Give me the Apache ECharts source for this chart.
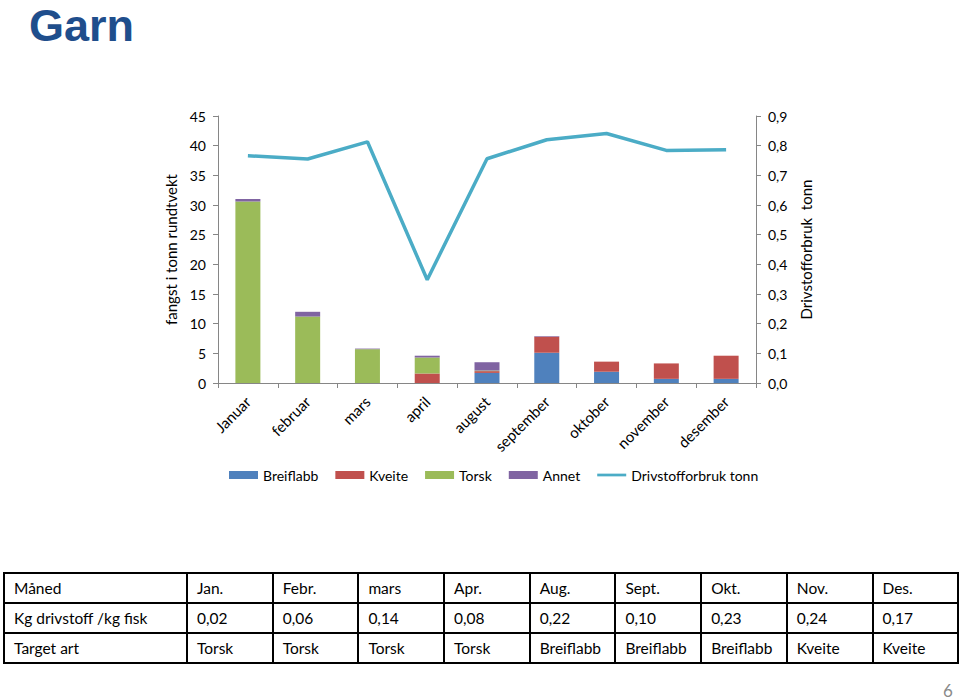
<!DOCTYPE html>
<html>
<head>
<meta charset="utf-8">
<script src="https://cdn.jsdelivr.net/npm/echarts@6/dist/echarts.min.js"></script>
<style>
  html, body { margin:0; padding:0; background:#fff; }
  #chart { position:absolute; left:0; top:0; width:960px; height:700px; }
  #tbl { position:absolute; left:3px; top:572px; border-collapse:collapse; font-family:Lato, "Open Sans", sans-serif; font-size:15.5px; color:#000; table-layout:fixed; }
  #tbl td { border:2px solid #000; height:28px; padding:0 0 0 9px; white-space:nowrap; }
  #page { position:absolute; left:943px; top:683px; font-family:Lato, sans-serif; font-size:17px; line-height:15px; color:#8a8a8a; }
</style>
</head>
<body>
<div id="chart"></div>
<table id="tbl"></table>
<div id="page">6</div>
<script>
const categories = ['Januar','februar','mars','april','august','september','oktober','november','desember'];
const breiflabb = [0, 0, 0, 0, 1.7, 5.1, 1.9, 0.7, 0.7];
const kveite    = [0, 0, 0, 1.6, 0.3, 2.7, 1.7, 2.6, 3.9];
const torsk     = [30.6, 11.2, 5.7, 2.7, 0.1, 0, 0, 0, 0];
const annet     = [0.4, 0.8, 0.1, 0.3, 1.4, 0.1, 0, 0, 0];
const drivstoff = [0.766, 0.755, 0.813, 0.348, 0.756, 0.82, 0.841, 0.784, 0.786];

const tableMonths = ['Jan.','Febr.','mars','Apr.','Aug.','Sept.','Okt.','Nov.','Des.'];
const tableRatio  = ['0,02','0,06','0,14','0,08','0,22','0,10','0,23','0,24','0,17'];
const tableTarget = ['Torsk','Torsk','Torsk','Torsk','Breiflabb','Breiflabb','Breiflabb','Kveite','Kveite'];
const tableRowLabels = ['Måned','Kg drivstoff /kg fisk','Target art'];

// build table
(function(){
  const tbl = document.getElementById('tbl');
  const cg = document.createElement('colgroup');
  const c0 = document.createElement('col'); c0.style.width = '183px'; cg.appendChild(c0);
  for (let i = 0; i < tableMonths.length; i++) { const c = document.createElement('col'); c.style.width = '85.7px'; cg.appendChild(c); }
  tbl.appendChild(cg);
  [tableMonths, tableRatio, tableTarget].forEach((row, r) => {
    const tr = document.createElement('tr');
    const th = document.createElement('td'); th.textContent = tableRowLabels[r]; tr.appendChild(th);
    row.forEach(v => { const td = document.createElement('td'); td.textContent = v; tr.appendChild(td); });
    tbl.appendChild(tr);
  });
})();

const FONT = 'Lato, "Open Sans", sans-serif';
const chart = echarts.init(document.getElementById('chart'), null, {renderer:'svg'});
const axisLine = {show:true, lineStyle:{color:'#868686', width:1}};
chart.setOption({
  animation:false,
  textStyle:{fontFamily:FONT},
  title:{text:'Garn', left:29, top:6, padding:0, textStyle:{fontFamily:'"Liberation Sans", Arial, sans-serif', fontSize:45, lineHeight:38, fontWeight:'bold', color:'#1F4E8C'}},
  legend:{
    left:229, top:468, padding:0, itemWidth:29, itemHeight:8, itemGap:17,
    textStyle:{fontFamily:FONT, fontSize:14, color:'#000'},
    data:[
      {name:'Breiflabb', icon:'rect'},
      {name:'Kveite', icon:'rect'},
      {name:'Torsk', icon:'rect'},
      {name:'Annet', icon:'rect'},
      {name:'Drivstofforbruk tonn', icon:'path://M0,0 L32,0 L32,3 L0,3 Z', itemStyle:{color:'#4BACC6'}}
    ]
  },
  grid:{left:218, right:204, top:116, bottom:317},
  xAxis:{
    type:'category', data:categories,
    axisLine:axisLine,
    axisTick:{show:true, alignWithLabel:false, length:5, lineStyle:{color:'#868686'}},
    axisLabel:{rotate:45, fontSize:15, color:'#000', margin:16, fontFamily:FONT, interval:0}
  },
  yAxis:[
    {
      type:'value', min:0, max:45, interval:5,
      name:'fangst i tonn rundtvekt', nameLocation:'middle', nameGap:37, nameRotate:90,
      nameTextStyle:{fontSize:15, color:'#000', fontFamily:FONT},
      axisLine:axisLine, axisTick:{show:true, length:5, lineStyle:{color:'#868686'}},
      splitLine:{show:false},
      axisLabel:{fontSize:14, color:'#000', margin:12, fontFamily:FONT}
    },
    {
      type:'value', min:0, max:0.9, interval:0.1, position:'right',
      name:'Drivstofforbruk  tonn', nameLocation:'middle', nameGap:41, nameRotate:90,
      nameTextStyle:{fontSize:15, color:'#000', fontFamily:FONT},
      axisLine:axisLine, axisTick:{show:true, length:5, lineStyle:{color:'#868686'}},
      splitLine:{show:false},
      axisLabel:{fontSize:14, color:'#000', margin:12, fontFamily:FONT, formatter:v => v.toFixed(1).replace('.', ',')}
    }
  ],
  series:[
    {name:'Breiflabb', type:'bar', stack:'s', barWidth:25, data:breiflabb, itemStyle:{color:'#4F81BD'}},
    {name:'Kveite', type:'bar', stack:'s', barWidth:25, data:kveite, itemStyle:{color:'#C0504D'}},
    {name:'Torsk', type:'bar', stack:'s', barWidth:25, data:torsk, itemStyle:{color:'#9BBB59'}},
    {name:'Annet', type:'bar', stack:'s', barWidth:25, data:annet, itemStyle:{color:'#8064A2'}},
    {name:'Drivstofforbruk tonn', type:'line', yAxisIndex:1, data:drivstoff, symbol:'none', showSymbol:false,
     lineStyle:{color:'#4BACC6', width:3.5}, itemStyle:{color:'#4BACC6'}}
  ]
});
</script>
</body>
</html>
